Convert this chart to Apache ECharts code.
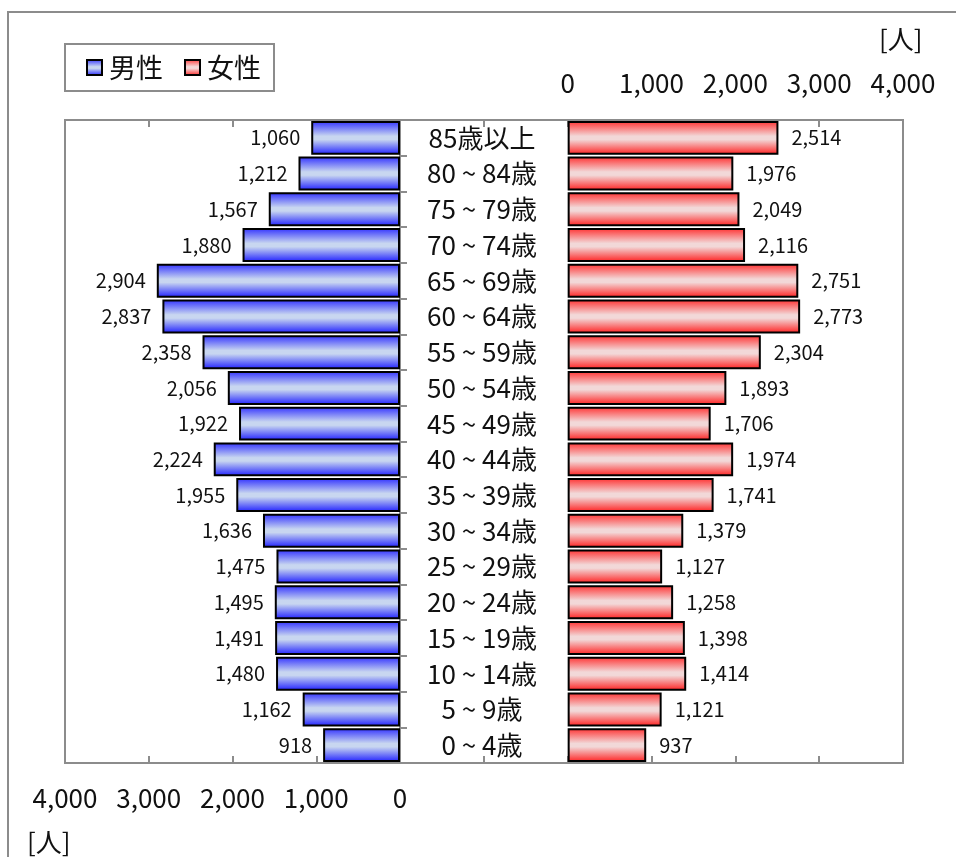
<!DOCTYPE html>
<html>
<head>
<meta charset="utf-8">
<script src="https://cdn.jsdelivr.net/npm/echarts@6/dist/echarts.min.js"></script>
<style>
  html, body { margin: 0; padding: 0; background: #fff; }
  #chart { width: 956px; height: 857px; }
</style>
</head>
<body>
<div id="chart"></div>
<script>
// Age groups, oldest first (drawn top to bottom)
const ageGroups = ['85歳以上', '80 ~ 84歳', '75 ~ 79歳', '70 ~ 74歳', '65 ~ 69歳', '60 ~ 64歳',
  '55 ~ 59歳', '50 ~ 54歳', '45 ~ 49歳', '40 ~ 44歳', '35 ~ 39歳', '30 ~ 34歳',
  '25 ~ 29歳', '20 ~ 24歳', '15 ~ 19歳', '10 ~ 14歳', '5 ~ 9歳', '0 ~ 4歳'];
const male = [1060, 1212, 1567, 1880, 2904, 2837, 2358, 2056, 1922, 2224, 1955, 1636,
  1475, 1495, 1491, 1480, 1162, 918];
const female = [2514, 1976, 2049, 2116, 2751, 2773, 2304, 1893, 1706, 1974, 1741, 1379,
  1127, 1258, 1398, 1414, 1121, 937];
const axisTicks = [0, 1000, 2000, 3000, 4000];
const unitLabel = '[人]';

const FONT = '"Noto Sans CJK JP", "Noto Sans", sans-serif';
const GRAY = '#8c8c8c';
const INK = '#111';

function fmt(v) {
  return String(v).replace(/\B(?=(\d{3})+(?!\d))/g, ',');
}

const blueFill = new echarts.graphic.LinearGradient(0, 0, 0, 1, [
  { offset: 0, color: '#3030ff' },
  { offset: 0.45, color: '#c8d6f0' },
  { offset: 0.55, color: '#c8d6f0' },
  { offset: 1, color: '#1e1eff' }
]);
const redFill = new echarts.graphic.LinearGradient(0, 0, 0, 1, [
  { offset: 0, color: '#ff3030' },
  { offset: 0.45, color: '#f2d8d8' },
  { offset: 0.55, color: '#f2d8d8' },
  { offset: 1, color: '#ff1e1e' }
]);

const axisMax = axisTicks[axisTicks.length - 1];
const tickStep = axisTicks[1] - axisTicks[0];

function valueAxis(gridIndex, position, extra) {
  return Object.assign({
    type: 'value',
    gridIndex: gridIndex,
    position: position,
    max: axisMax,
    interval: tickStep,
    axisLine: { show: true, onZero: false, lineStyle: { color: GRAY, width: 2 } },
    axisTick: { show: true, inside: true, length: 7, lineStyle: { color: GRAY, width: 2 } },
    splitLine: { show: false },
    axisLabel: { show: false }
  }, extra);
}

const chart = echarts.init(document.getElementById('chart'), null, { renderer: 'canvas' });

chart.setOption({
  animation: false,
  textStyle: { fontFamily: FONT },
  legend: {
    left: 65,
    top: 44,
    orient: 'horizontal',
    data: ['男性', '女性'],
    icon: 'rect',
    itemWidth: 15,
    itemHeight: 15,
    itemGap: 21,
    padding: [10, 13, 10, 21],
    borderColor: GRAY,
    borderWidth: 2,
    textStyle: { fontSize: 27, color: INK, fontFamily: FONT, padding: [0, 0, 0, 2] }
  },
  grid: [
    { left: 65, right: 556, top: 120, bottom: 94, show: true, borderColor: GRAY, borderWidth: 2, backgroundColor: '#fff' },
    { left: 400, right: 53, top: 120, bottom: 94, show: true, borderColor: GRAY, borderWidth: 2, backgroundColor: '#fff' }
  ],
  xAxis: [
    valueAxis(0, 'bottom', {
      min: 0, inverse: true,
      axisLabel: { show: true, fontSize: 26, color: INK, margin: 22, fontFamily: FONT, formatter: v => fmt(v) }
    }),
    valueAxis(0, 'top', { min: 0, inverse: true }),
    valueAxis(1, 'top', {
      min: -2 * tickStep,
      axisLabel: { show: true, fontSize: 26, color: INK, margin: 24, fontFamily: FONT,
        formatter: v => (v < 0 ? '' : fmt(v)) }
    }),
    valueAxis(1, 'bottom', { min: -2 * tickStep })
  ],
  yAxis: [
    {
      type: 'category',
      gridIndex: 0,
      position: 'right',
      inverse: true,
      data: ageGroups,
      axisLine: { show: true, lineStyle: { color: GRAY, width: 2 } },
      axisTick: { show: true, inside: false, length: 7, lineStyle: { color: GRAY, width: 2 } },
      axisLabel: { show: true, align: 'center', margin: 82, fontSize: 26, color: INK, fontFamily: FONT }
    },
    {
      type: 'category',
      gridIndex: 1,
      inverse: true,
      data: ageGroups,
      axisLine: { show: false },
      axisTick: { show: false },
      axisLabel: { show: false }
    }
  ],
  series: [
    {
      name: '男性',
      type: 'bar',
      xAxisIndex: 0,
      yAxisIndex: 0,
      data: male,
      barCategoryGap: '5%',
      itemStyle: { color: blueFill, borderColor: '#000', borderWidth: 2 },
      label: { show: true, position: 'left', distance: 11, fontSize: 20, color: INK, fontFamily: FONT,
        formatter: p => fmt(p.value) }
    },
    {
      name: '女性',
      type: 'bar',
      xAxisIndex: 2,
      yAxisIndex: 1,
      data: female,
      barCategoryGap: '5%',
      itemStyle: { color: redFill, borderColor: '#000', borderWidth: 2 },
      label: { show: true, position: 'right', distance: 13, fontSize: 20, color: INK, fontFamily: FONT,
        formatter: p => fmt(p.value) }
    }
  ],
  graphic: [
    {
      type: 'rect', z: -10, silent: true,
      shape: { x: 8, y: 12, width: 1000, height: 1000 },
      style: { fill: 'none', stroke: GRAY, lineWidth: 2 }
    },
    {
      type: 'text', left: 879, top: 26,
      style: { text: unitLabel, fontSize: 26, fill: INK, fontFamily: FONT }
    },
    {
      type: 'text', left: 27, top: 829,
      style: { text: unitLabel, fontSize: 26, fill: INK, fontFamily: FONT }
    }
  ]
});
</script>
</body>
</html>
